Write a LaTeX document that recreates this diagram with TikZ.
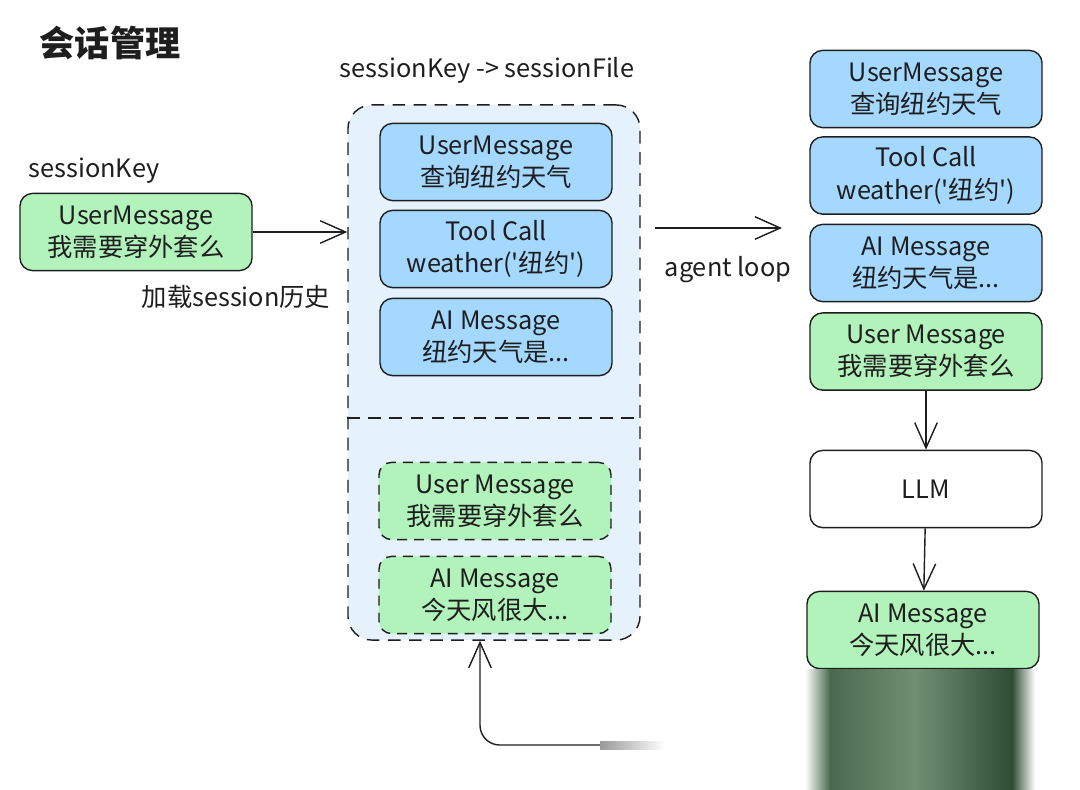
\documentclass[tikz,border=0pt]{standalone}
\usepackage{fontspec}
\setmainfont{Noto Sans CJK SC}
\newfontfamily\plainfont{Noto Sans CJK SC}
\usepackage{tikz}
\usetikzlibrary{arrows.meta, positioning, calc}

\definecolor{ink}{HTML}{1E1E1E}
\definecolor{msgblue}{HTML}{A5D8FF}
\definecolor{msggreen}{HTML}{B2F2BB}
\definecolor{fileblue}{HTML}{E5F2FC}
\definecolor{smeardark}{HTML}{2F4C35}
\definecolor{smearmid}{HTML}{4A6A4F}
\definecolor{smearlight}{HTML}{6F8F73}
\newcommand{\msgfont}{\fontsize{18}{23}\selectfont}
\newcommand{\sq}{{\plainfont '}}

\tikzset{
  msg/.style={draw=ink, line width=1pt, rounded corners=9pt, minimum width=5.8cm,
    minimum height=1.93cm, align=center, font=\msgfont, text=ink},
  bluemsg/.style={msg, fill=msgblue},
  greenmsg/.style={msg, fill=msggreen},
  newmsg/.style={greenmsg, dash pattern=on 7pt off 5pt},
  lbl/.style={font=\msgfont, text=ink},
  flow/.style={draw=ink, line width=1pt, -{Straight Barb[length=18pt,width=16pt]}},
}

\begin{document}
\begin{tikzpicture}[x=0.025cm, y=-0.025cm]
\useasboundingbox (0,0) rectangle (1080,790);
% Title
\node[font=\fontsize{25}{30}\selectfont\bfseries, text=ink] (title) at (110,43) {会话管理};
% Incoming message
\node[lbl] (keylbl) at (94,171) {sessionKey};
\node[greenmsg] (user) at (136,232) {UserMessage\\我需要穿外套么};
\node[lbl] (loadlbl) at (236,297) {加载session历史};
% Session file (drawn FIRST so boxes are on top)
\node[draw=ink, fill=fileblue, line width=1pt, dash pattern=on 9pt off 6pt,
  rounded corners=17pt, minimum width=7.3cm, minimum height=13.375cm] (file) at (494,372.5) {};
\draw[ink, line width=1pt, dash pattern=on 9pt off 6pt] (file.west |- 0,418) -- (file.east |- 0,418);
\node[lbl] (filelbl) at (487,70) {sessionKey -> sessionFile};
% History in the file
\node[bluemsg] (hist1) at (496,162) {UserMessage\\查询纽约天气};
\node[bluemsg] (hist2) at (496,249) {Tool Call\\weather(\sq 纽约\sq)};
\node[bluemsg] (hist3) at (496,337) {AI Message\\纽约天气是...};
% New turn appended
\node[newmsg] (new1) at (495,501) {User Message\\我需要穿外套么};
\node[newmsg] (new2) at (495,595) {AI Message\\今天风很大...};
% Context sent to the model
\node[bluemsg] (ctx1) at (926,89) {UserMessage\\查询纽约天气};
\node[bluemsg] (ctx2) at (926,175.5) {Tool Call\\weather(\sq 纽约\sq)};
\node[bluemsg] (ctx3) at (926,263) {AI Message\\纽约天气是...};
\node[greenmsg] (ctx4) at (926,351.5) {User Message\\我需要穿外套么};
\node[msg, fill=white] (llm) at (926,489) {LLM};
\node[greenmsg] (reply) at (923,630) {AI Message\\今天风很大...};
\node[lbl] (looplbl) at (728,270) {agent loop};
% Arrows
\coordinate (loopstart) at (655,228);
\coordinate (loopend) at (782,228);
\coordinate (reload) at (600,745);
\draw[flow] (user) -- (user -| file.west);
\draw[flow] (loopstart) -- (loopend);
\draw[flow] (ctx4) -- (llm);
\draw[flow] (llm) -- (reply);
\draw[flow, rounded corners=14pt] (reload) -| ($(file.south)+(-14,0)$);
\shade[left color=ink!45, right color=white] (600,741) rectangle (665,749);
% Smear below the reply (soft edges, lighter middle)
\shade[left color=white, right color=smearmid] (805,669) rectangle (830,790);
\shade[left color=smearmid, right color=smearlight] (830,669) rectangle (915,790);
\shade[left color=smearlight, right color=smeardark] (915,669) rectangle (1012,790);
\shade[left color=smeardark, right color=white] (1012,669) rectangle (1035,790);
\end{tikzpicture}
\end{document}
